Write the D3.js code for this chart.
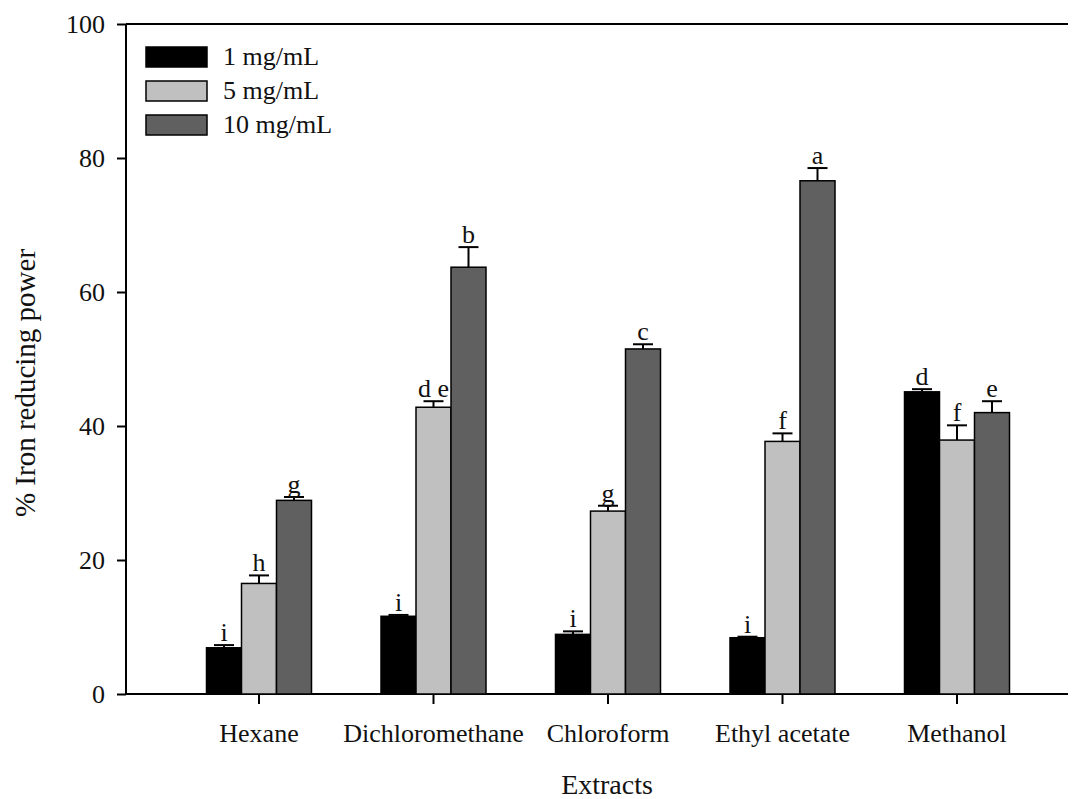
<!DOCTYPE html>
<script src="https://d3js.org/d3.v7.min.js"></script>

<style>
body {margin: 0; background: white;}
svg text {font-family: "Liberation Serif", Tinos, "Times New Roman", Times, serif; fill: #111;}
.bar rect {stroke: black; stroke-width: 1.5;}
.err line {stroke: black; stroke-width: 2;}
</style>

<svg width="1076" height="799"></svg>

<script>
var extracts = ["Hexane", "Dichloromethane", "Chloroform", "Ethyl acetate", "Methanol"];
var series = ["1 mg/mL", "5 mg/mL", "10 mg/mL"];
var colors = ["#000000", "#c0c0c0", "#606060"];

// values per series, in extract order
var mean1 = [6.9, 11.6, 8.9, 8.4, 45.1];
var mean5 = [16.5, 42.8, 27.3, 37.7, 37.9];
var mean10 = [28.9, 63.7, 51.5, 76.6, 42.0];
var err1 = [0.4, 0.2, 0.45, 0.15, 0.4];
var err5 = [1.2, 0.9, 0.8, 1.2, 2.2];
var err10 = [0.5, 3.0, 0.7, 1.9, 1.7];
var let1 = ["i", "i", "i", "i", "d"];
var let5 = ["h", "d e", "g", "f", "f"];
var let10 = ["g", "b", "c", "a", "e"];
var yTicks = [0, 20, 40, 60, 80, 100];

var means = [mean1, mean5, mean10],
    errs = [err1, err5, err10],
    lets = [let1, let5, let10];

var data = [];
extracts.forEach(function(e, i) {
  series.forEach(function(s, j) {
    data.push({extract: e, series: s, k: j, value: means[j][i], err: errs[j][i], label: lets[j][i]});
  });
});

var svg = d3.select("svg");

var x = d3.scaleBand().domain(extracts).range([171.75, 1044.25]);
var xs = d3.scaleBand().domain(series).range([-52.5, 52.5]);
var y = d3.scaleLinear().domain([0, 100]).range([694, 24]);

// axes
var left = 126, right = 1068;
svg.append("line").attr("x1", left).attr("x2", right).attr("y1", y(100)).attr("y2", y(100))
    .attr("stroke", "black").attr("stroke-width", 2);
svg.append("line").attr("x1", left).attr("x2", right).attr("y1", y(0)).attr("y2", y(0))
    .attr("stroke", "black").attr("stroke-width", 2);

var yAxis = svg.append("g")
    .attr("transform", "translate(" + left + ",0)")
    .call(d3.axisLeft(y).tickValues(yTicks).tickSize(9).tickPadding(12));
yAxis.attr("font-family", null);
yAxis.select(".domain").attr("stroke-width", 2).attr("d", "M0," + y(0) + "V" + y(100));
yAxis.selectAll(".tick line").attr("stroke-width", 2);
yAxis.selectAll("text").style("font-size", "26px");

var xAxis = svg.append("g")
    .attr("transform", "translate(0," + y(0) + ")")
    .call(d3.axisBottom(x).tickSize(10).tickPadding(20));
xAxis.attr("font-family", null);
xAxis.select(".domain").remove();
xAxis.selectAll(".tick line").attr("stroke-width", 2);
xAxis.selectAll("text").style("font-size", "26px");

// bars
var g = svg.append("g").attr("class", "bar");
g.selectAll("rect").data(data).enter().append("rect")
    .attr("x", function(d) { return x(d.extract) + x.bandwidth() / 2 + xs(d.series); })
    .attr("width", xs.bandwidth())
    .attr("y", function(d) { return y(d.value); })
    .attr("height", function(d) { return y(0) - y(d.value); })
    .attr("fill", function(d) { return colors[d.k]; });

// error bars (upper only)
var cx = function(d) { return x(d.extract) + x.bandwidth() / 2 + xs(d.series) + xs.bandwidth() / 2; };
var eg = svg.append("g").attr("class", "err");
eg.selectAll(".v").data(data).enter().append("line")
    .attr("x1", cx).attr("x2", cx)
    .attr("y1", function(d) { return y(d.value); })
    .attr("y2", function(d) { return y(d.value + d.err); });
eg.selectAll(".c").data(data).enter().append("line")
    .attr("x1", function(d) { return cx(d) - 10; })
    .attr("x2", function(d) { return cx(d) + 10; })
    .attr("y1", function(d) { return y(d.value + d.err); })
    .attr("y2", function(d) { return y(d.value + d.err); });

// significance letters
svg.append("g").selectAll("text").data(data).enter().append("text")
    .attr("x", cx)
    .attr("y", function(d) { return y(d.value + d.err) - 4; })
    .attr("text-anchor", "middle")
    .style("font-size", "26px")
    .text(function(d) { return d.label; });

// axis titles
svg.append("text")
    .attr("transform", "translate(35,383) rotate(-90)")
    .attr("text-anchor", "middle")
    .style("font-size", "29px")
    .text("% Iron reducing power");
svg.append("text")
    .attr("x", 607).attr("y", 794)
    .attr("text-anchor", "middle")
    .style("font-size", "28px")
    .text("Extracts");

// legend
var leg = svg.append("g").selectAll("g").data(series).enter().append("g")
    .attr("transform", function(d, i) { return "translate(146," + (47 + i * 34) + ")"; });
leg.append("rect").attr("width", 61).attr("height", 20)
    .attr("fill", function(d, i) { return colors[i]; })
    .attr("stroke", "black").attr("stroke-width", 1.5);
leg.append("text").attr("x", 77).attr("y", 18)
    .style("font-size", "26px")
    .text(function(d) { return d; });
</script>
